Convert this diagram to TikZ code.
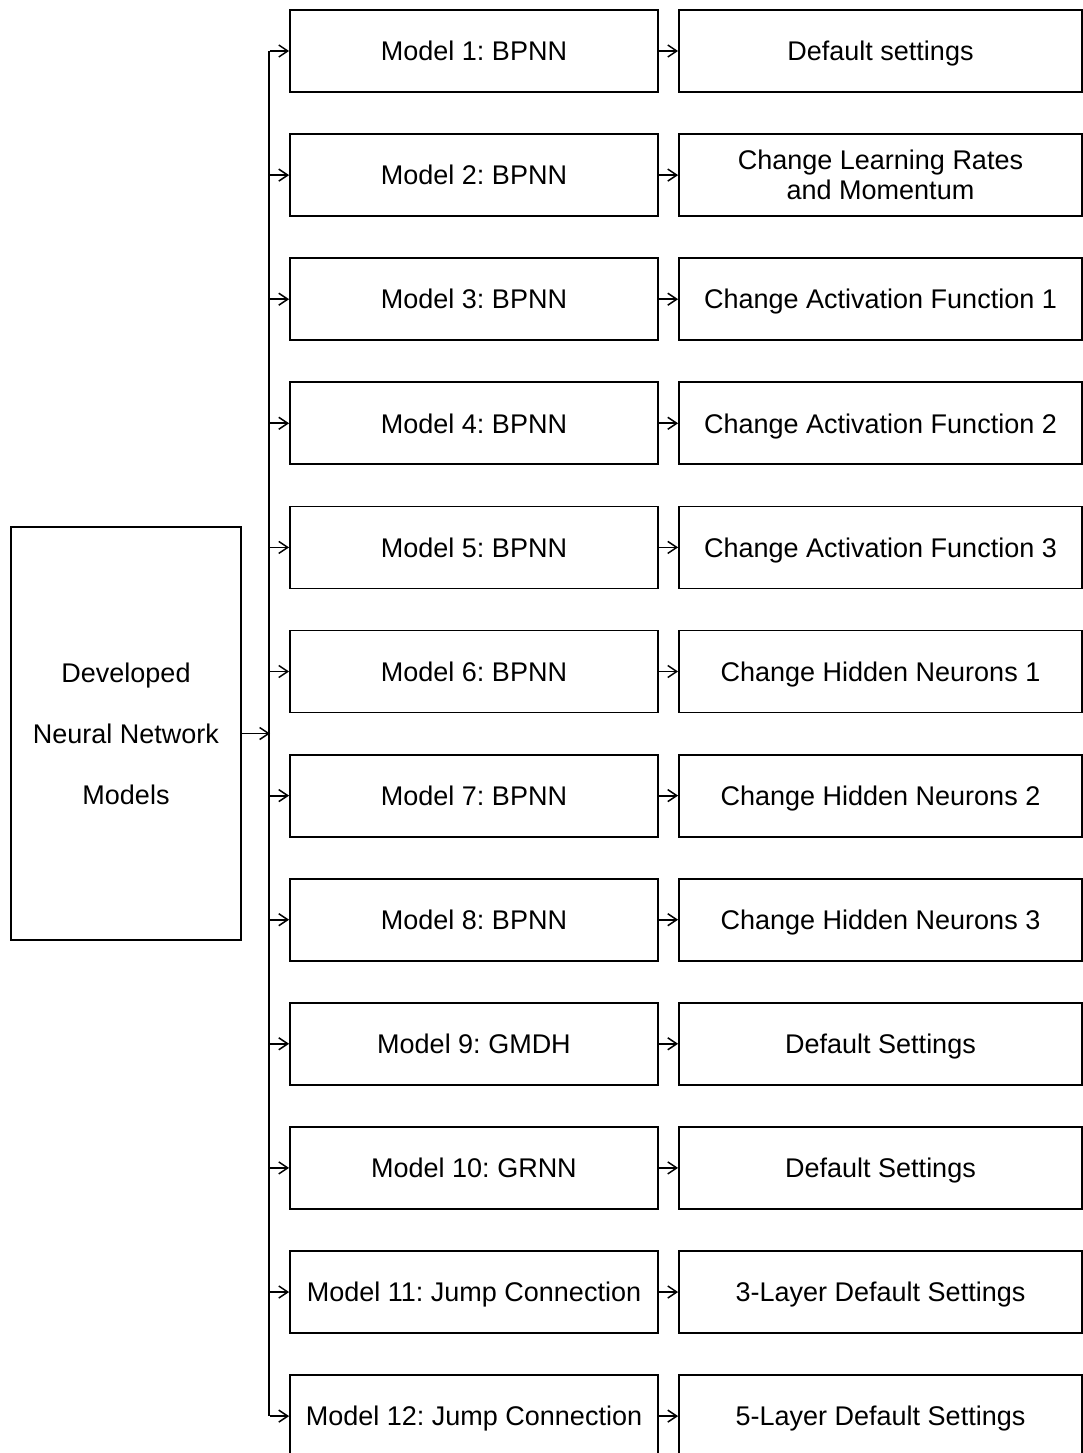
\documentclass[tikz,border=0pt]{standalone}
\usepackage{fontspec}
\setmainfont{Liberation Sans}
\usetikzlibrary{arrows.meta}
\frenchspacing
\begin{document}
\begin{tikzpicture}[x=1pt,y=-1pt,
 box/.style={draw, line width=1.8pt, minimum height=82pt, inner sep=0pt, font=\fontsize{27}{30}\selectfont, align=center},
 one/.style={text height=19.5pt, text depth=0pt},
 mid/.style={box, one, minimum width=368pt},
 res/.style={box, minimum width=403pt},
 wire/.style={line width=1.8pt},
 conn/.style={wire, -{Straight Barb[length=9pt,width=12pt,line width=1.5pt]}}]
\useasboundingbox (0,0) rectangle (1083,1453);
\clip (0,0) rectangle (1083,1453);
% left box
\node[box, minimum width=230pt, minimum height=413pt, font=\fontsize{27}{61}\selectfont] (dev) at (126,733.5) {Developed\\Neural Network\\Models};
% middle boxes
\node[mid] (m1) at (474,51) {Model 1: BPNN};
\node[mid] (m2) at (474,175.1) {Model 2: BPNN};
\node[mid] (m3) at (474,299.2) {Model 3: BPNN};
\node[mid] (m4) at (474,423.3) {Model 4: BPNN};
\node[mid] (m5) at (474,547.4) {Model 5: BPNN};
\node[mid] (m6) at (474,671.5) {Model 6: BPNN};
\node[mid] (m7) at (474,795.6) {Model 7: BPNN};
\node[mid] (m8) at (474,919.7) {Model 8: BPNN};
\node[mid] (m9) at (474,1043.8) {Model 9: GMDH};
\node[mid] (m10) at (474,1167.9) {Model 10: GRNN};
\node[mid] (m11) at (474,1292) {Model 11: Jump Connection};
\node[mid] (m12) at (474,1416.1) {Model 12: Jump Connection};
% right boxes
\node[res, one] (r1) at (880.5,51) {Default settings};
\node[res] (r2) at (880.5,175.1) {Change Learning Rates\\and Momentum};
\node[res, one] (r3) at (880.5,299.2) {Change Activation Function 1};
\node[res, one] (r4) at (880.5,423.3) {Change Activation Function 2};
\node[res, one] (r5) at (880.5,547.4) {Change Activation Function 3};
\node[res, one] (r6) at (880.5,671.5) {Change Hidden Neurons 1};
\node[res, one] (r7) at (880.5,795.6) {Change Hidden Neurons 2};
\node[res, one] (r8) at (880.5,919.7) {Change Hidden Neurons 3};
\node[res, one] (r9) at (880.5,1043.8) {Default Settings};
\node[res, one] (r10) at (880.5,1167.9) {Default Settings};
\node[res, one] (r11) at (880.5,1292) {3-Layer Default Settings};
\node[res, one] (r12) at (880.5,1416.1) {5-Layer Default Settings};
% bus
\coordinate (bus) at (270,733.5);
\draw[conn] (dev.east) -- (bus);
\draw[wire] (m1.west) ++(-20pt,0) coordinate (btop) -- (btop |- m12.west) coordinate (bbot);
\foreach \i in {1,...,12}{
  \draw[conn] (bus |- m\i.west) -- (m\i.west);
  \draw[conn] (m\i.east) -- (r\i.west);
}
\end{tikzpicture}
\end{document}
